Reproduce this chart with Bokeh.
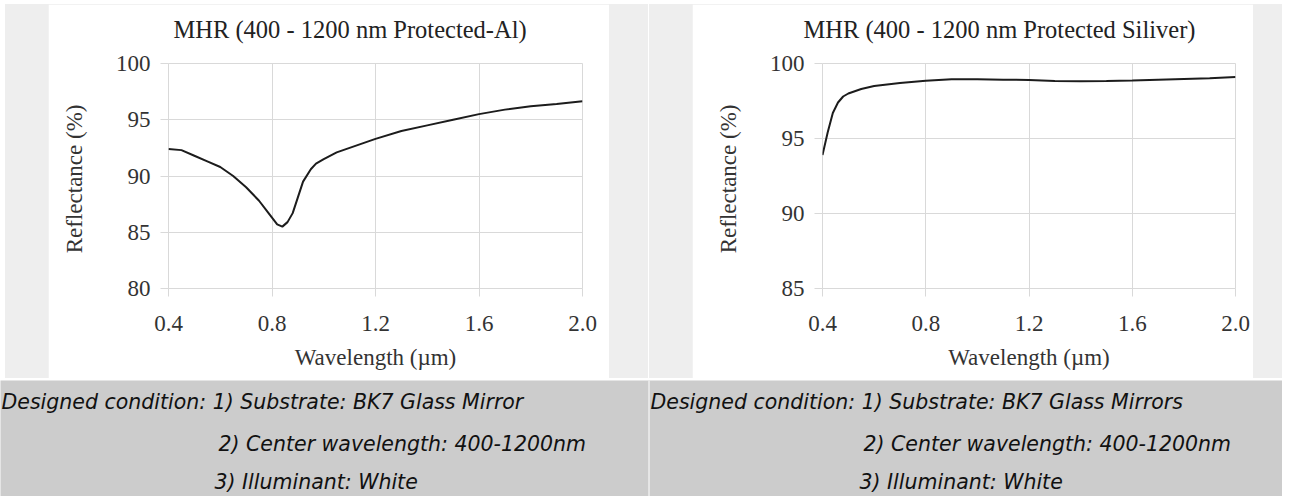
from bokeh.plotting import figure
from bokeh.models import Range1d, FixedTicker, Label, Span, Title
from bokeh.layouts import row, column
from bokeh.embed import file_html
from bokeh.resources import INLINE

# ---------------- data ----------------
al_wavelength = [0.40, 0.45, 0.50, 0.55, 0.60, 0.65, 0.70, 0.75, 0.78, 0.80, 0.82, 0.84,
                 0.86, 0.88, 0.90, 0.92, 0.95, 0.97, 1.00, 1.05, 1.10, 1.20, 1.30, 1.40,
                 1.50, 1.60, 1.70, 1.80, 1.90, 2.00]
al_reflectance = [92.4, 92.3, 91.8, 91.3, 90.8, 90.0, 89.0, 87.8, 86.9, 86.3, 85.7, 85.5,
                  85.9, 86.7, 88.1, 89.5, 90.6, 91.1, 91.5, 92.1, 92.5, 93.3, 94.0, 94.5,
                  95.0, 95.5, 95.9, 96.2, 96.4, 96.65]

ag_wavelength = [0.40, 0.42, 0.44, 0.46, 0.48, 0.50, 0.55, 0.60, 0.70, 0.80, 0.90, 1.00,
                 1.10, 1.20, 1.30, 1.40, 1.50, 1.60, 1.70, 1.80, 1.90, 2.00]
ag_reflectance = [93.9, 95.4, 96.7, 97.4, 97.8, 98.0, 98.3, 98.5, 98.7, 98.85, 98.95, 98.95,
                  98.92, 98.9, 98.83, 98.82, 98.83, 98.87, 98.92, 98.97, 99.02, 99.1]

x_ticks = [0.4, 0.8, 1.2, 1.6, 2.0]
x_tick_labels = ["0.4", "0.8", "1.2", "1.6", "2.0"]
al_y_ticks = [80, 85, 90, 95, 100]
ag_y_ticks = [85, 90, 95, 100]

title_left = "MHR (400 - 1200 nm Protected-Al)"
title_right = "MHR (400 - 1200 nm Protected Siliver)"
x_label = "Wavelength (µm)"
y_label = "Reflectance  (%)"

caption_left = ["Designed condition: 1) Substrate: BK7 Glass Mirror",
                "2) Center wavelength: 400-1200nm",
                "3) Illuminant: White"]
caption_right = ["Designed condition: 1) Substrate: BK7 Glass Mirrors",
                 "2) Center wavelength: 400-1200nm",
                 "3) Illuminant: White"]

SERIF = "Liberation Serif"
GRID = "#d9d9d9"
TEXT = "#333333"


def make_chart(title, xs, ys, y_start, y_ticks, min_left, min_right, title_offset):
    p = figure(width=561, height=374, output_backend="svg", toolbar_location=None,
               title=None,
               x_range=Range1d(0.4, 2.0), y_range=Range1d(y_start, 100),
               min_border_left=min_left, min_border_right=min_right,
               min_border_top=59, min_border_bottom=90)
    p.border_fill_color = "white"
    p.background_fill_color = "white"
    p.outline_line_color = GRID

    # empty spacer title closest to the frame, then the real title above it
    p.add_layout(Title(text=" ", text_font_size="11.5px", standoff=0), "above")
    p.add_layout(Title(text=title, align="left", offset=title_offset,
                       text_font=SERIF, text_font_size="24.5px", text_font_style="normal",
                       text_color="#222222", standoff=14), "above")

    p.xaxis.ticker = FixedTicker(ticks=x_ticks)
    p.xaxis.major_label_overrides = {t: l for t, l in zip(x_ticks, x_tick_labels)}
    p.yaxis.ticker = FixedTicker(ticks=y_ticks)
    p.yaxis.major_label_overrides = {t: str(t) for t in y_ticks}

    for ax in (p.xaxis[0], p.yaxis[0]):
        ax.axis_line_color = None
        ax.major_tick_line_color = GRID
        ax.major_tick_in = 0
        ax.major_tick_out = 8
        ax.minor_tick_line_color = None
        ax.major_label_text_font = SERIF
        ax.major_label_text_font_size = "23px"
        ax.major_label_text_color = TEXT
        ax.axis_label_text_font = SERIF
        ax.axis_label_text_font_size = "23px"
        ax.axis_label_text_font_style = "normal"
        ax.axis_label_text_color = TEXT

    p.xaxis.axis_label = x_label
    p.yaxis.axis_label = y_label
    p.xaxis.major_label_standoff = 19
    p.xaxis.axis_label_standoff = 11
    p.yaxis.major_label_standoff = 10
    p.yaxis.axis_label_standoff = 26

    p.xgrid.ticker = FixedTicker(ticks=x_ticks)
    p.ygrid.ticker = FixedTicker(ticks=y_ticks)
    p.grid.grid_line_color = GRID
    p.grid.grid_line_width = 1

    p.line(xs, ys, line_color="#1c1c1c", line_width=2)
    return p


fig_l = make_chart(title_left, al_wavelength, al_reflectance, 80, al_y_ticks, 120, 27, 5)
fig_r = make_chart(title_right, ag_wavelength, ag_reflectance, 85, ag_y_ticks, 130, 18, -19)

fig_l.margin = (0, 39, 0, 43)
fig_r.margin = (0, 29, 0, 43)

panel_l = column(fig_l, styles={"background-color": "#eeeeee"})
panel_r = column(fig_r, styles={"background-color": "#eeeeee"})
top = row(panel_l, panel_r, spacing=1, margin=(4, 0, 0, 5))

# ---------------- caption ----------------
cap = figure(width=1282, height=116, output_backend="svg", toolbar_location=None,
             x_range=Range1d(0, 1282), y_range=Range1d(496, 380),
             x_axis_location=None, y_axis_location=None, min_border=0)
cap.grid.visible = False
cap.outline_line_color = None
cap.background_fill_color = "#cccccc"
cap.border_fill_color = "#cccccc"
cap.add_layout(Span(location=648.5, dimension="height", line_color="white", line_width=1))

line_y = [401, 443, 481]
left_x = [1, 218, 214]
right_x = [650, 863, 859]
for texts, xs in ((caption_left, left_x), (caption_right, right_x)):
    for t, x, y in zip(texts, xs, line_y):
        cap.add_layout(Label(x=x, y=y, text=t, text_font="DejaVu Sans", text_font_style="italic",
                             text_font_size="20.5px", text_color="#111111", text_baseline="middle",
                             text_align="left"))

layout = column(top, cap, spacing=2)

open("out.html", "w").write(file_html(layout, INLINE))
